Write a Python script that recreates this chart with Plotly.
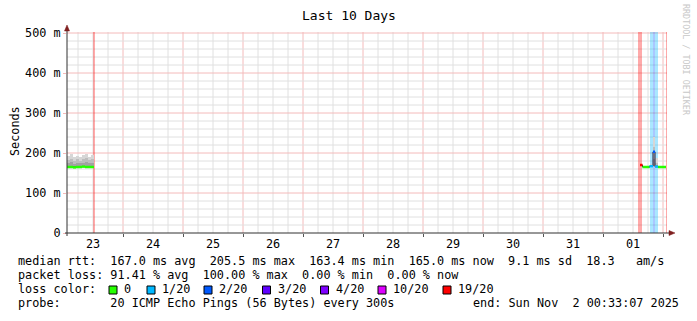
import plotly.graph_objects as go
from datetime import datetime, timedelta

# ---------------- data ----------------
title = "Last 10 Days"
y_title = "Seconds"
x_start = "2025-10-23 01:36:00"
x_end = "2025-11-02 01:36:00"
y_tickvals = [0, 100, 200, 300, 400, 500]
y_ticktext = ["0", "100 m", "200 m", "300 m", "400 m", "500 m"]

# loss colour legend (SmokePing defaults for 20 pings)
loss_labels = ["0", "1/20", "2/20", "3/20", "4/20", "10/20", "19/20"]
loss_thresholds = [0, 1, 2, 3, 4, 10, 19]
loss_colors = ["#26ff00", "#00b8ff", "#0059ff", "#5e00ff", "#7e00ff", "#dd00ff", "#ff0000"]

# measurement bins: start, end, median rtt (ms), lost pings, smoke (ms)
bin_start = ["2025-10-23 01:36", "2025-10-23 02:48", "2025-10-23 04:00", "2025-10-23 05:12",
             "2025-10-23 06:24", "2025-10-23 07:36", "2025-10-23 08:48", "2025-10-23 10:00",
             "2025-10-23 11:12",
             "2025-11-01 14:48", "2025-11-01 15:48", "2025-11-01 18:36", "2025-11-01 20:00",
             "2025-11-01 20:48", "2025-11-01 22:00"]
bin_end = ["2025-10-23 02:48", "2025-10-23 04:00", "2025-10-23 05:12", "2025-10-23 06:24",
           "2025-10-23 07:36", "2025-10-23 08:48", "2025-10-23 10:00", "2025-10-23 11:12",
           "2025-10-23 12:24",
           "2025-11-01 15:48", "2025-11-01 18:36", "2025-11-01 20:00", "2025-11-01 20:48",
           "2025-11-01 22:00", "2025-11-02 01:12"]
median_ms = [165, 165, 164, 165, 165, 166, 165, 165, 165,
             170, 165, 167, 203, 166, 165]
lost = [0, 0, 0, 0, 0, 0, 0, 0, 0,
        19, 0, 1, 2, 1, 0]
smoke_min = [163, 163, 162, 163, 163, 164, 163, 163, 163,
             170, 164, 165, 168, 164, 164]
smoke_low = [175, 177, 173, 176, 174, 176, 178, 175, 176,
             170, 165, 168, 185, 170, 165]
smoke_mid = [183, 186, 181, 184, 180, 185, 187, 182, 185,
             170, 166, 170, 215, 176, 166]
smoke_max = [193, 198, 190, 192, 189, 195, 198, 191, 196,
             170, 167, 172, 241, 187, 167]
segment = [0, 0, 0, 0, 0, 0, 0, 0, 0, 1, 1, 1, 1, 1, 1]

# loss background periods
lossbg_start = ["2025-10-23 12:00", "2025-11-01 14:00", "2025-11-01 18:36",
                "2025-11-01 20:00", "2025-11-02 01:20"]
lossbg_end = ["2025-10-23 12:48", "2025-11-01 15:36", "2025-11-01 22:00",
              "2025-11-01 20:48", "2025-11-02 01:36"]
lossbg_lost = [19, 19, 1, 2, 19]

legend_row1 = "median rtt:  167.0 ms avg  205.5 ms max  163.4 ms min  165.0 ms now  9.1 ms sd  18.3   am/s"
legend_row2 = "packet loss: 91.41 % avg  100.00 % max  0.00 % min  0.00 % now"
legend_row3 = "loss color:"
legend_row4 = "probe:       20 ICMP Echo Pings (56 Bytes) every 300s"
legend_end = "end: Sun Nov  2 00:33:07 2025"
watermark = "RRDTOOL / TOBI OETIKER"

# ---------------- layout helpers ----------------
W, H = 697, 321
L, R, T, B = 67, 667, 32, 233
Y_TOP = 502.5
FONT = "DejaVu Sans Mono"
MAJOR = "#f4baba"
MINOR = "#e0e0e0"


def px(x):
    return (x - L) / (R - L)


def py(y):
    return (B - y) / (B - T)


def ts(s):
    return datetime.strptime(s, "%Y-%m-%d %H:%M")


def dur_ms(a, b):
    return (ts(b) - ts(a)).total_seconds() * 1000.0


def loss_color(n):
    idx = 0
    for i, t in enumerate(loss_thresholds):
        if n >= t:
            idx = i
    return loss_colors[idx]


def nb(s):
    return s.replace(" ", "\u00a0")


fig = go.Figure()

# loss background bands
fig.add_trace(go.Bar(
    x=lossbg_start, base=[0] * len(lossbg_start), y=[Y_TOP] * len(lossbg_start),
    width=[dur_ms(a, b) for a, b in zip(lossbg_start, lossbg_end)], offset=0,
    marker=dict(color=[loss_color(n) for n in lossbg_lost], line=dict(width=0)),
    opacity=0.33, showlegend=False, hoverinfo="skip"))

# smoke
for lo, hi, col in [(smoke_min, smoke_max, "#d6d6d6"),
                    (smoke_min, smoke_mid, "#bdbdbd"),
                    (smoke_min, smoke_low, "#a2a2a2")]:
    fig.add_trace(go.Bar(
        x=bin_start, base=lo, y=[h - l for h, l in zip(hi, lo)],
        width=[dur_ms(a, b) for a, b in zip(bin_start, bin_end)], offset=0,
        marker=dict(color=col, line=dict(width=0)),
        showlegend=False, hoverinfo="skip"))

# median connectors (step line) per segment
for seg in sorted(set(segment)):
    xs, ys = [], []
    for i, s in enumerate(segment):
        if s == seg:
            xs += [bin_start[i], bin_end[i]]
            ys += [median_ms[i], median_ms[i]]
    fig.add_trace(go.Scatter(x=xs, y=ys, mode="lines", line=dict(color="#1a1a40", width=1),
                             showlegend=False, hoverinfo="skip"))

# median coloured by loss
for i in range(len(bin_start)):
    fig.add_trace(go.Scatter(x=[bin_start[i], bin_end[i]], y=[median_ms[i], median_ms[i]],
                             mode="lines", line=dict(color=loss_color(lost[i]), width=2.5),
                             showlegend=False, hoverinfo="skip"))

fig.update_layout(
    width=W, height=H,
    margin=dict(l=L, r=W - R, t=T, b=H - B, pad=0),
    paper_bgcolor="white", plot_bgcolor="white",
    barmode="overlay", bargap=0,
    font=dict(family=FONT, size=11.8, color="black"),
    showlegend=False,
)

fig.update_xaxes(
    type="date", range=[x_start, x_end],
    tick0="2025-10-23", dtick=86400000, ticklabelmode="period", tickformat="%d",
    showgrid=False,
    ticks="outside", ticklen=3, tickcolor="#555", showline=False, zeroline=False,
    ticklabelstandoff=-3,
    tickfont=dict(family=FONT, size=11.8, color="black"),
)
fig.update_yaxes(
    range=[0, Y_TOP], tickvals=y_tickvals, ticktext=y_ticktext,
    showgrid=False,
    ticks="outside", ticklen=3, tickcolor=MAJOR,
    showline=False, zeroline=False,
    tickfont=dict(family=FONT, size=11.8, color="black"),
)

shapes = []
# grid: minor every 6 hours / 20 ms, major at midnight / 100 ms
t0 = datetime(2025, 10, 23, 0, 0)
for k in range(0, 11 * 4):
    t = t0 + timedelta(hours=6 * k)
    if ts(x_start[:16]) < t < ts(x_end[:16]):
        shapes.append(dict(type="line", xref="x", yref="paper", x0=t, x1=t, y0=0, y1=1,
                           layer="below",
                           line=dict(color=MAJOR if k % 4 == 0 else MINOR, width=1)))
for v in range(20, 501, 20):
    shapes.append(dict(type="line", xref="paper", yref="y", x0=0, x1=1, y0=v, y1=v,
                       layer="below",
                       line=dict(color=MAJOR if v % 100 == 0 else MINOR, width=1)))

# axes lines
shapes.append(dict(type="line", xref="paper", yref="paper",
                   x0=px(65), x1=px(671), y0=py(233), y1=py(233),
                   line=dict(color="#303030", width=1)))
shapes.append(dict(type="line", xref="paper", yref="paper",
                   x0=px(67), x1=px(67), y0=py(236), y1=py(29),
                   line=dict(color="#303030", width=1)))
# arrows
shapes.append(dict(type="path", xref="paper", yref="paper",
                   path=f"M {px(64.5)} {py(31)} L {px(67)} {py(25)} L {px(69.5)} {py(31)} Z",
                   fillcolor="#7f1f1f", line=dict(color="#7f1f1f", width=0.5)))
shapes.append(dict(type="path", xref="paper", yref="paper",
                   path=f"M {px(669)} {py(230.5)} L {px(675)} {py(233)} L {px(669)} {py(235.5)} Z",
                   fillcolor="#7f1f1f", line=dict(color="#7f1f1f", width=0.5)))

annotations = []
annotations.append(dict(text=title, xref="paper", yref="paper", x=px(349), y=py(16),
                        xanchor="center", yanchor="middle", showarrow=False,
                        font=dict(family=FONT, size=13, color="black")))
annotations.append(dict(text=y_title, xref="paper", yref="paper", x=px(15), y=py(131),
                        xanchor="center", yanchor="middle", showarrow=False, textangle=-90,
                        font=dict(family=FONT, size=11.8, color="black")))
annotations.append(dict(text=nb(watermark), xref="paper", yref="paper", x=px(686), y=py(60),
                        xanchor="center", yanchor="middle", showarrow=False, textangle=90,
                        font=dict(family=FONT, size=8.4, color="#c8c8c8")))

rows_y = [261, 275, 289, 303]
for txt, yy in [(legend_row1, rows_y[0]), (legend_row2, rows_y[1]),
                (legend_row3, rows_y[2]), (legend_row4, rows_y[3])]:
    annotations.append(dict(text=nb(txt), xref="paper", yref="paper", x=px(16), y=py(yy),
                            xanchor="left", yanchor="middle", showarrow=False,
                            font=dict(family=FONT, size=11.8, color="black")))
annotations.append(dict(text=nb(legend_end), xref="paper", yref="paper", x=px(681), y=py(rows_y[3]),
                        xanchor="right", yanchor="middle", showarrow=False,
                        font=dict(family=FONT, size=11.8, color="black")))

box_x = [109, 147, 204, 262.5, 320.5, 378, 443]
for bx, lab, col in zip(box_x, loss_labels, loss_colors):
    shapes.append(dict(type="rect", xref="paper", yref="paper",
                       x0=px(bx), x1=px(bx + 8), y0=py(294), y1=py(286),
                       fillcolor=col, line=dict(color="black", width=1)))
    annotations.append(dict(text=lab, xref="paper", yref="paper", x=px(bx + 13), y=py(rows_y[2]),
                            xanchor="left", yanchor="middle", showarrow=False,
                            font=dict(family=FONT, size=11.8, color="black")))

fig.update_layout(shapes=shapes, annotations=annotations)
fig.write_html("out.html")
